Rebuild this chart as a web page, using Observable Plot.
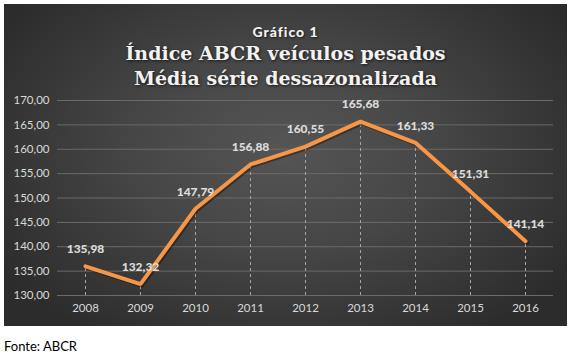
<!DOCTYPE html>
<html>
<head>
<meta charset="utf-8">
<script src="https://cdn.jsdelivr.net/npm/d3@7"></script>
<script src="https://cdn.jsdelivr.net/npm/@observablehq/plot@0.6"></script>
<style>
  html, body { margin: 0; padding: 0; background: #fff; }
  #box {
    position: absolute; left: 4px; top: 4px; width: 563px; height: 322px;
    background: radial-gradient(ellipse 60% 70% at 50% 45%, #555555 0%, #464646 45%, #2c2c2c 100%);
    overflow: hidden;
  }
  #t0 { position: absolute; left: 0; width: 563px; top: 19px; text-align: center;
        font-family: Lato, "Open Sans", sans-serif; font-weight: 900; font-size: 14px; color: #f2f2f2;
        letter-spacing: 1px; text-shadow: 1px 1px 2px rgba(0,0,0,0.6); }
  #t1, #t2 { position: absolute; left: 0; width: 563px; text-align: center;
        font-family: "DejaVu Serif", "Liberation Serif", serif; font-weight: bold; font-size: 19px; color: #f2f2f2;
        text-shadow: 1px 1px 3px rgba(0,0,0,0.7); }
  #t1 { top: 38px; }
  #t2 { top: 63px; }
  #chart { position: absolute; left: 0; top: 84px; }
  #cap { position: absolute; left: 4px; top: 338px; font-family: Lato, "Open Sans", sans-serif; font-size: 13px; color: #000; }
</style>
</head>
<body>
<div id="box">
  <div id="t0">Gráfico 1</div>
  <div id="t1">Índice ABCR veículos pesados</div>
  <div id="t2">Média série dessazonalizada</div>
  <div id="chart"></div>
</div>
<div id="cap">Fonte: ABCR</div>
<script>
const years = ["2008","2009","2010","2011","2012","2013","2014","2015","2016"];
const values = [135.98, 132.32, 147.79, 156.88, 160.55, 165.68, 161.33, 151.31, 141.14];
const yTicks = [130, 135, 140, 145, 150, 155, 160, 165, 170];

const data = years.map((y, i) => ({year: y, value: values[i]}));
const fmt = v => v.toFixed(2).replace(".", ",");

const plot = Plot.plot({
  width: 563,
  height: 242,
  marginTop: 12,
  marginBottom: 35,
  marginLeft: 53,
  marginRight: 14,
  style: {background: "transparent", color: "#d9d9d9", fontFamily: "Lato, 'Open Sans', sans-serif", fontSize: "11.5px"},
  x: {type: "point", domain: years, padding: 0.5, label: null},
  y: {domain: [130, 170], ticks: yTicks, tickFormat: fmt, label: null},
  marks: [
    Plot.gridY(yTicks, {stroke: "#6a6a6a", strokeOpacity: 1, strokeWidth: 1}),
    Plot.ruleX(data, {x: "year", y1: 130, y2: "value", stroke: "#a6a6a6", strokeDasharray: "3,3", strokeWidth: 1}),
    Plot.line(data, {x: "year", y: "value", stroke: "#000", strokeOpacity: 0.35, strokeWidth: 4, dx: 1.5, dy: 1.5}),
    Plot.line(data, {x: "year", y: "value", stroke: "#F79646", strokeWidth: 4, strokeLinejoin: "miter"}),
    Plot.text(data, {x: "year", y: "value", text: d => fmt(d.value), dy: -17, fill: "#dcdcdc", fontWeight: "900", fontSize: 12}),
    Plot.axisX({tickSize: 0, tickPadding: 8, fill: "#d9d9d9"}),
    Plot.axisY({ticks: yTicks, tickFormat: fmt, tickSize: 0, tickPadding: 8, fill: "#d9d9d9"})
  ]
});
document.getElementById("chart").appendChild(plot);
</script>
</body>
</html>
